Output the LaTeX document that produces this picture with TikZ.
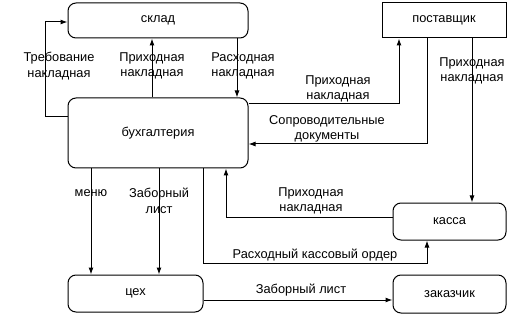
\documentclass[tikz,border=0pt]{standalone}
\usepackage{fontspec}
\setmainfont{Liberation Sans}
\usetikzlibrary{arrows.meta}
\begin{document}
\begin{tikzpicture}[x=1pt,y=-1pt,
  box/.style={draw,line width=1pt,rounded corners=8pt,inner sep=0pt,font=\fontsize{12.8}{15}\selectfont},
  sbox/.style={draw,line width=1pt,inner sep=0pt,font=\fontsize{12.8}{15}\selectfont},
  arr/.style={line width=1pt,-{Latex[length=7pt,width=5pt]}},
  lbl/.style={align=center,inner sep=0pt,font=\fontsize{12.8}{15.5}\selectfont}]
\useasboundingbox (0,0) rectangle (525,318);
\node[box,minimum width=180pt,minimum height=35pt] (sklad) at (158,20.5) {склад};
\node[box,minimum width=180pt,minimum height=70pt] (buh) at (158,133) {бухгалтерия};
\node[sbox,minimum width=124pt,minimum height=35pt] (post) at (444,20.5) {поставщик};
\node[box,minimum width=113pt,minimum height=37pt] (kassa) at (449.5,221.5) {касса};
\node[box,minimum width=113pt,minimum height=38pt] (zak) at (449.5,294) {заказчик};
\node[box,minimum width=135pt,minimum height=37pt] (ceh) at (135.5,293.5) {цех};
% connectors
\draw[arr] (buh.west |- 0,117) -- (45,117) -- (45,22) -- (sklad.west |- 0,22);
\draw[arr] (buh.north -| 152,0) -- (sklad.south -| 152,0);
\draw[arr] (sklad.south -| 237,0) -- (buh.north -| 237,0);
\draw[arr] (buh.east |- 0,104) -- (399,104) -- (post.south -| 399,0);
\draw[arr] (post.south -| 427,0) -- (427,144) -- (buh.east |- 0,144);
\draw[arr] (post.south -| 472,0) -- (kassa.north -| 472,0);
\draw[arr] (kassa.west |- 0,217) -- (226,217) -- (buh.south -| 226,0);
\draw[arr] (buh.south -| 203,0) -- (203,263) -- (427,263) -- (kassa.south -| 427,0);
\draw[arr] (buh.south -| 91,0) -- (ceh.north -| 91,0);
\draw[arr] (buh.south -| 159,0) -- (ceh.north -| 159,0);
\draw[arr] (ceh.east |- 0,300) -- (zak.west |- 0,300);
% labels
\node[lbl] (l1) at (59,66) {Требование\\накладная};
\node[lbl] (l2) at (152,66) {Приходная\\накладная};
\node[lbl] (l3) at (243,66) {Расходная\\накладная};
\node[lbl] (l4) at (338,89) {Приходная\\накладная};
\node[lbl] (l5) at (327,129) {Сопроводительные\\документы};
\node[lbl] (l6) at (472,71) {Приходная\\накладная};
\node[lbl] (l7) at (91,193) {меню};
\node[lbl] (l8) at (159,201) {Заборный\\лист};
\node[lbl] (l9) at (311,201) {Приходная\\накладная};
\node[lbl] (l10) at (315,255) {Расходный кассовый ордер};
\node[lbl] (l11) at (301,290) {Заборный лист};
\end{tikzpicture}
\end{document}
